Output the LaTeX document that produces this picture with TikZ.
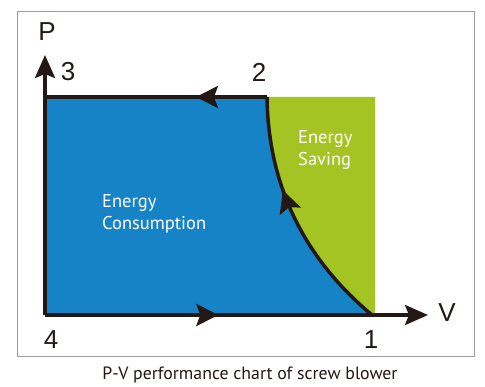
\documentclass[tikz,border=0pt]{standalone}
\usepackage{fontspec}
\setmainfont{Liberation Sans}
\newfontfamily\areafont{PT Sans}
\usetikzlibrary{arrows.meta,decorations.markings}

\definecolor{useblue}{HTML}{1583C6}
\definecolor{savegreen}{HTML}{A3C422}
\definecolor{inkline}{HTML}{231815}

\tikzset{
  axis/.style={draw=inkline, line width=3.5pt, -{Stealth[length=23pt,width=20pt,inset=4pt]}},
  cycleline/.style={draw=inkline, line width=3.5pt},
  midarrow/.style={postaction={decorate}, decoration={markings,
      mark=at position #1 with {\arrow{Stealth[length=22pt,width=22pt,inset=4pt]}}}},
  num/.style={font=\fontsize{26}{26}\selectfont, text=inkline},
  area/.style={font=\areafont\fontsize{18.5}{22}\selectfont, text=white, align=left, anchor=north west, inner sep=0pt},
}

\begin{document}
\begin{tikzpicture}[x=1pt, y=-1pt]
     \useasboundingbox (0,0) rectangle (485,387);
     \draw[gray!80, line width=0.8pt] (17.5,11.7) rectangle (474,356);

     \coordinate (p1) at (372,315);
     \coordinate (p2) at (267,97);
     \coordinate (p3) at (45,97);
     \coordinate (p4) at (45,315);
     \coordinate (vend) at (428,315);
     \coordinate (pend) at (45,55);

     % areas
     \fill[savegreen] (p2) -- (375,97) -- (375,315) -- (p1) .. controls (300,255) and (268,180) .. (p2) -- cycle;
     \fill[useblue] (p4) -- (p3) -- (p2) .. controls (268,180) and (300,255) .. (p1) -- cycle;

     % cycle
     \path[cycleline, midarrow=0.32] (p2) -- (p3);
     \path[cycleline, midarrow=0.53] (p4) -- (p1);
     \path[cycleline, midarrow=0.62] (p1) .. controls (300,255) and (268,180) .. (p2);

     % axes
     \draw[axis] (p4) -- (pend);
     \draw[axis] (p4) -- (vend);

     \node[num] (lp) at (47,32) {P};
     \node[num] (lv) at (447,313) {V};
     \node[num] (l1) at (371,340) {1};
     \node[num] (l2) at (259,72) {2};
     \node[num] (l3) at (68,72) {3};
     \node[num] (l4) at (51,340) {4};

     \node[area] (cons) at (102,194) {Energy\\Consumption};
     \node[area] (save) at (298,130) {Energy\\Saving};

     \node[font=\areafont\fontsize{17.8}{18}\selectfont, text=inkline] (cap) at (250,375) {P-V performance chart of screw blower};
\end{tikzpicture}
\end{document}
